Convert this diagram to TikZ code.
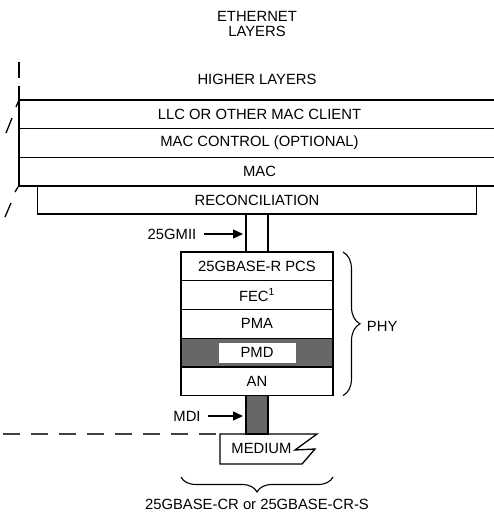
\documentclass[tikz,border=0pt]{standalone}
\usepackage{fontspec}
\setmainfont{Liberation Sans}
\usetikzlibrary{positioning,arrows.meta,decorations.pathreplacing}
\definecolor{hatch}{HTML}{676767}
\tikzset{
  layer/.style={draw, line width=1.3pt, minimum height=28.7pt, inner sep=0pt, outer sep=0pt},
  phylayer/.style={layer, minimum width=152pt},
  lbl/.style={inner xsep=7pt, inner ysep=0pt},
  arrow/.style={-{Triangle[length=10pt,width=9pt]}, line width=1.3pt},
  curly/.style={decorate, decoration={brace, amplitude=#1}, line width=1.1pt}
}
\begin{document}
\begin{tikzpicture}[x=1pt, y=-1pt, font=\fontsize{14.8}{15}\selectfont, line width=1.3pt]
  \useasboundingbox (0,0) rectangle (494,516);
  \node[align=center, inner sep=0pt] (title) at (257,24) {ETHERNET\\LAYERS};
  \node (higher) at (257,79) {HIGHER LAYERS};
  % MAC side
  \node[layer, minimum width=481pt] (llc) at (259.5,114.3) {LLC OR OTHER MAC CLIENT};
  \node[layer, minimum width=481pt, below=0pt of llc] (macctl) {MAC CONTROL (OPTIONAL)};
  \node[layer, minimum width=481pt, below=0pt of macctl] (mac) {MAC};
  \node[layer, minimum width=439pt, minimum height=28pt, below=0pt of mac, xshift=-2.5pt] (rec) {RECONCILIATION};
  % PHY stack
  \node[phylayer, below=38pt of rec] (pcs) {25GBASE-R PCS};
  \node[phylayer, below=0pt of pcs] (fec) {FEC\textsuperscript{1}};
  \node[phylayer, below=0pt of fec] (pma) {PMA};
  \node[phylayer, below=0pt of pma, fill=hatch] (pmd) {};
  \node[fill=white, minimum width=77pt, minimum height=20pt, inner sep=0pt] (pmdtxt) at (pmd) {PMD};
  \node[phylayer, below=0pt of pmd] (an) {AN};
  % medium
  \coordinate (mdi) at (257,434);
  \coordinate (medleft) at (220,434);
  \draw[fill=white] (medleft) -- (317,434) -- (295,450) -- (315,449) -- (302,464) -- (220,464) -- cycle;
  \node (medium) at (261.5,448) {MEDIUM};
  % interfaces
  \draw ([xshift=-11pt]rec.south) -- ([xshift=-11pt]pcs.north);
  \draw ([xshift=11pt]rec.south) -- ([xshift=11pt]pcs.north);
  \filldraw[fill=hatch] ([xshift=-11pt]an.south) rectangle ([xshift=11pt]mdi);
  \node[lbl] (gmii) at (172,234) {25GMII};
  \draw[arrow] (gmii.east) -- ([xshift=-14pt]pcs.north |- gmii.east);
  \node[lbl] (mdilbl) at (187,416) {MDI};
  \draw[arrow] (mdilbl.east) -- ([xshift=-14pt]an.south |- mdilbl.east);
  \draw[dash pattern=on 17pt off 11pt, draw=black!75] (3,434) -- (medleft);
  % braces
  \draw[curly=17pt] ([xshift=10pt]pcs.north east) -- ([xshift=10pt]an.south east);
  \node[anchor=west] (phy) at (363,326) {PHY};
  \draw[curly=15pt] (333,477) -- (181,477);
  \node (cr) at (257,504) {25GBASE-CR or 25GBASE-CR-S};
  % break marks at left
  \draw (19,62) -- (19,78);
  \draw (19,86) -- (llc.north west);
  \draw (16,107) -- (19,100);
  \draw (6,133) -- (12,118);
  \draw (15,192) -- (18,187);
  \draw (5,217) -- (11,203);
\end{tikzpicture}
\end{document}
